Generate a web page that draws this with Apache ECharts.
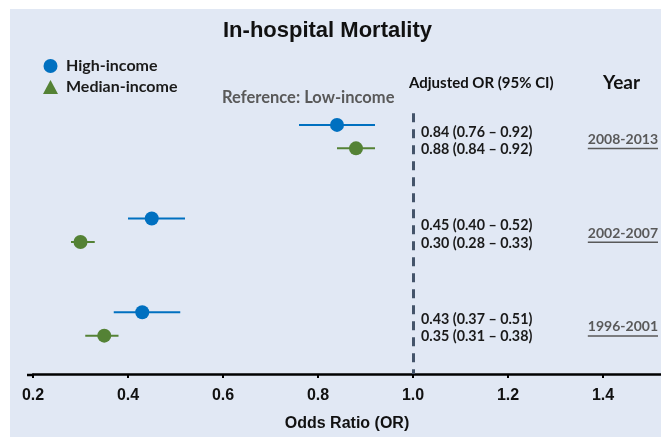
<!DOCTYPE html>
<html>
<head>
<meta charset="utf-8">
<script src="https://cdn.jsdelivr.net/npm/echarts@6/dist/echarts.min.js"></script>
<style>
  html, body { margin: 0; padding: 0; background: #ffffff; }
  #chart { width: 661px; height: 437px; }
</style>
</head>
<body>
<div id="chart"></div>
<script>
// Adjusted odds ratios of in-hospital mortality vs. low-income reference
const years = ['2008-2013', '2002-2007', '1996-2001'];
const highOR = [0.84, 0.45, 0.43];
const highLo = [0.76, 0.40, 0.37];
const highHi = [0.92, 0.52, 0.51];
const medOR = [0.88, 0.30, 0.35];
const medLo = [0.84, 0.28, 0.31];
const medHi = [0.92, 0.33, 0.38];
const tickLabels = ['0.2', '0.4', '0.6', '0.8', '1.0', '1.2', '1.4'];
const referenceOR = 1.0;

const BLUE = '#0070c0';
const GREEN = '#548235';
const CAL = 'Lato, "Open Sans", sans-serif';
const ARIAL = '"Liberation Sans", Arial, sans-serif';

// each period uses four row slots: high-income, median-income, then a gap
const rowHigh = years.map((_, g) => g * 4);
const rowMed = years.map((_, g) => g * 4 + 1);

const fmt = v => v.toFixed(2);
const ciText = (o, l, h) => `${fmt(o)} (${fmt(l)} \u2013 ${fmt(h)})`;

const highRows = years.map((_, g) => [highLo[g], highHi[g], rowHigh[g], highOR[g]]);
const medRows = years.map((_, g) => [medLo[g], medHi[g], rowMed[g], medOR[g]]);

const measureCtx = document.createElement('canvas').getContext('2d');
const yearFont = 'bold 14px ' + CAL;
measureCtx.font = yearFont;

function ciRenderer(color, labelShift) {
  return function (params, api) {
    const row = api.value(2);
    const a = api.coord([api.value(0), row]);
    const b = api.coord([api.value(1), row]);
    const ref = api.coord([referenceOR, row]);
    return {
      type: 'group',
      children: [
        { type: 'line', shape: { x1: a[0], y1: a[1], x2: b[0], y2: b[1] },
          style: { stroke: color, lineWidth: 2 } },
        { type: 'text', x: ref[0] + 8, y: a[1] + labelShift,
          style: { text: ciText(api.value(3), api.value(0), api.value(1)),
                   font: 'bold 14.3px ' + CAL, fill: '#1a1a1a',
                   align: 'left', verticalAlign: 'middle' } }
      ]
    };
  };
}

const yearRows = years.map((y, g) => [g * 4 + 0.5, g]);

const chart = echarts.init(document.getElementById('chart'), null, { renderer: 'canvas' });
const yMin = -1, yMax = 10.638;

chart.setOption({
  animation: false,
  backgroundColor: '#ffffff',
  graphic: [
    { type: 'rect', left: 10, top: 9, shape: { width: 651, height: 428 },
      style: { fill: '#e1e8f4' }, z: -10, silent: true },
    { type: 'text', left: 223, top: 20,
      style: { text: 'In-hospital Mortality', font: 'bold 22px ' + ARIAL, fill: '#111' } },
    { type: 'text', left: 222, top: 89,
      style: { text: 'Reference: Low-income', font: 'bold 16.5px ' + CAL, fill: '#595959' } },
    { type: 'text', left: 409, top: 76,
      style: { text: 'Adjusted OR (95% CI)', font: 'bold 15px ' + CAL, fill: '#111' } },
    { type: 'text', left: 603, top: 73,
      style: { text: 'Year', font: 'bold 19px ' + CAL, fill: '#111' } },
    { type: 'line', shape: { x1: 27, y1: 375, x2: 34, y2: 375 },
      style: { stroke: '#000', lineWidth: 2.5 } }
  ],
  legend: {
    orient: 'vertical',
    left: 38,
    top: 53,
    itemWidth: 15,
    itemHeight: 14,
    itemGap: 5,
    selectedMode: false,
    textStyle: { fontFamily: CAL, fontWeight: 'bold', fontSize: 16, color: '#1a1a1a', padding: [0, 0, 0, 3] },
    data: [
      { name: 'High-income', icon: 'circle', itemStyle: { color: BLUE } },
      { name: 'Median-income', icon: 'triangle', itemStyle: { color: GREEN } }
    ]
  },
  grid: { left: 33, right: 0, top: 101.5, bottom: 62, containLabel: false },
  xAxis: {
    type: 'value',
    min: 0.2,
    max: 1.5221,
    interval: 0.2,
    name: 'Odds Ratio (OR)',
    nameLocation: 'middle',
    nameGap: 42,
    nameTextStyle: { fontFamily: ARIAL, fontWeight: 'bold', fontSize: 16, color: '#111' },
    axisLine: { onZero: false, lineStyle: { color: '#000', width: 2.5 } },
    axisTick: { show: true, length: 4, inside: false, lineStyle: { color: '#000', width: 2 } },
    axisLabel: {
      margin: 14,
      fontFamily: ARIAL, fontWeight: 'bold', fontSize: 16, color: '#111',
      showMaxLabel: false,
      formatter: v => tickLabels[Math.round((v - 0.2) / 0.2)] || ''
    },
    splitLine: { show: false }
  },
  yAxis: {
    type: 'value',
    inverse: true,
    min: yMin,
    max: yMax,
    show: false
  },
  series: [
    {
      name: 'High-income', type: 'scatter', symbol: 'circle', symbolSize: 14, z: 4,
      itemStyle: { color: BLUE, opacity: 1 },
      data: years.map((_, g) => [highOR[g], rowHigh[g]]),
      markLine: {
        silent: true, symbol: 'none', label: { show: false },
        lineStyle: { color: '#44546a', width: 3, type: [9, 7] },
        data: [[{ coord: [referenceOR, -0.5] }, { coord: [referenceOR, yMax] }]]
      }
    },
    {
      name: 'Median-income', type: 'scatter', symbol: 'circle', symbolSize: 14, z: 4,
      itemStyle: { color: GREEN, opacity: 1 },
      data: years.map((_, g) => [medOR[g], rowMed[g]])
    },
    {
      name: 'High-income', type: 'custom', z: 2, clip: false,
      renderItem: ciRenderer(BLUE, 7),
      encode: { x: [0, 1], y: 2 },
      data: highRows
    },
    {
      name: 'Median-income', type: 'custom', z: 2, clip: false,
      renderItem: ciRenderer(GREEN, 1),
      encode: { x: [0, 1], y: 2 },
      data: medRows
    },
    {
      name: 'years', type: 'custom', z: 2, clip: false,
      renderItem: function (params, api) {
        const p = api.coord([referenceOR, api.value(0)]);
        const label = years[api.value(1)];
        const w = measureCtx.measureText(label).width;
        const right = 658;
        const y = p[1] + 3;
        return {
          type: 'group',
          children: [
            { type: 'text', x: right, y: y,
              style: { text: label, font: yearFont, fill: '#595959', align: 'right', verticalAlign: 'middle' } },
            { type: 'line', shape: { x1: right - w, y1: y + 9, x2: right, y2: y + 9 },
              style: { stroke: '#595959', lineWidth: 1.5 } }
          ]
        };
      },
      encode: { y: 0 },
      data: yearRows
    }
  ]
});
</script>
</body>
</html>
